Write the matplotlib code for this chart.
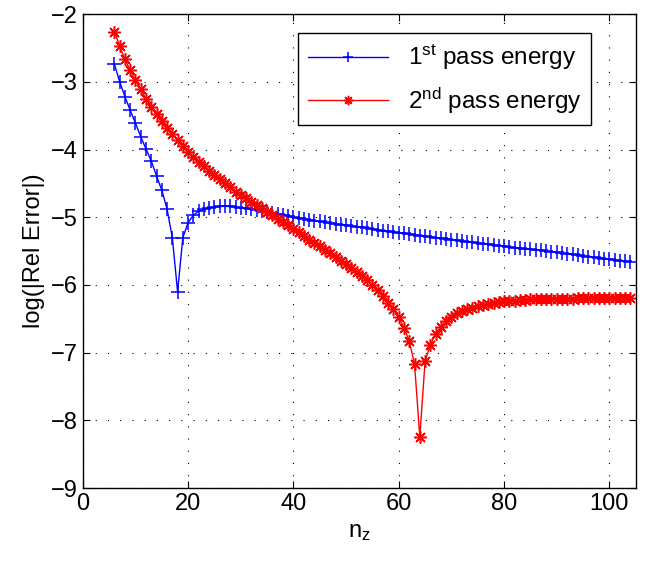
"""log relative error of pass energies vs n_z"""

import matplotlib
matplotlib.use('Agg')
import matplotlib.pyplot as plt

plt.rcParams['font.family'] = ['Liberation Sans', 'DejaVu Sans']
plt.rcParams['mathtext.fontset'] = 'custom'
plt.rcParams['mathtext.rm'] = 'Liberation Sans'
plt.rcParams['mathtext.it'] = 'Liberation Sans:italic'

n_z = list(range(6, 105))

# 1st pass energy
first_pass = [
    -2.74, -3.00, -3.22, -3.42, -3.61, -3.81, -3.99, -4.17, -4.39, -4.60,   # 6-15
    -4.88, -5.30, -6.10, -5.30, -5.08, -4.97, -4.91, -4.88, -4.86, -4.85,   # 16-25
    -4.84, -4.84, -4.84, -4.85, -4.86, -4.87, -4.88, -4.89, -4.91, -4.92,   # 26-35
    -4.94, -4.95, -4.96, -4.98, -5.00, -5.01, -5.02, -5.04, -5.05, -5.06,   # 36-45
    -5.07, -5.09, -5.10, -5.11, -5.12, -5.13, -5.14, -5.15, -5.16, -5.18,   # 46-55
    -5.19, -5.20, -5.21, -5.22, -5.23, -5.24, -5.25, -5.26, -5.27, -5.28,   # 56-65
    -5.29, -5.30, -5.31, -5.32, -5.33, -5.34, -5.35, -5.36, -5.37, -5.38,   # 66-75
    -5.39, -5.40, -5.41, -5.42, -5.43, -5.44, -5.45, -5.46, -5.47, -5.475,  # 76-85
    -5.48, -5.49, -5.50, -5.51, -5.52, -5.53, -5.54, -5.55, -5.56, -5.57,   # 86-95
    -5.58, -5.59, -5.60, -5.61, -5.62, -5.63, -5.64, -5.65, -5.66,          # 96-104
]

# 2nd pass energy
second_pass = [
    -2.26, -2.47, -2.67, -2.83, -2.98, -3.11, -3.25, -3.37, -3.48, -3.58,   # 6-15
    -3.68, -3.77, -3.86, -3.95, -4.03, -4.11, -4.18, -4.25, -4.32, -4.38,   # 16-25
    -4.44, -4.50, -4.56, -4.62, -4.67, -4.72, -4.77, -4.82, -4.87, -4.92,   # 26-35
    -4.97, -5.02, -5.07, -5.12, -5.17, -5.22, -5.28, -5.33, -5.38, -5.43,   # 36-45
    -5.48, -5.53, -5.59, -5.64, -5.69, -5.75, -5.81, -5.87, -5.93, -6.00,   # 46-55
    -6.08, -6.17, -6.27, -6.36, -6.48, -6.63, -6.83, -7.17, -8.24, -7.13,   # 56-65
    -6.88, -6.73, -6.62, -6.53, -6.47, -6.42, -6.39, -6.36, -6.34, -6.31,   # 66-75
    -6.29, -6.28, -6.26, -6.25, -6.24, -6.23, -6.23, -6.22, -6.22, -6.21,   # 76-85
    -6.21, -6.21, -6.20, -6.20, -6.20, -6.20, -6.20, -6.20, -6.19, -6.19,   # 86-95
    -6.19, -6.19, -6.19, -6.19, -6.19, -6.19, -6.19, -6.19, -6.19,          # 96-104
]

labels = [r'$\mathregular{1^{st}}$ pass energy', r'$\mathregular{2^{nd}}$ pass energy']

fig = plt.figure(figsize=(6.52, 5.63), dpi=100)
ax = fig.add_axes([0.127, 0.133, 0.848, 0.842])

ax.plot(n_z, first_pass, color='#0000ff', lw=1.0, marker='+', markersize=10,
        markeredgewidth=1.1, label=labels[0])
ax.plot(n_z, second_pass, color='#ff0000', lw=1.0, marker=(8, 2, 0), markersize=9,
        markeredgewidth=1.1, label=labels[1])

ax.set_xlim(0, 105)
ax.set_ylim(-9, -2)
ax.set_xticks(range(0, 101, 20))
ax.set_yticks(range(-9, -1))
ax.tick_params(direction='in', top=True, right=True, length=5, width=0.8, labelsize=17)
for spine in ax.spines.values():
    spine.set_linewidth(1.0)

ax.grid(True, color='black', lw=0.8, linestyle=(0, (1, 10)))

ax.set_xlabel(r'$\mathregular{n_z}$', fontsize=17)
ax.set_ylabel('log(|Rel Error|)', fontsize=17)

leg = ax.legend(loc='upper right', bbox_to_anchor=(0.92, 0.96), borderaxespad=0,
                fontsize=17.5, fancybox=False, framealpha=1, edgecolor='black',
                handlelength=3.3, markerscale=0.75, labelspacing=0.55)
leg.get_frame().set_linewidth(1.0)

fig.savefig('out.png', dpi=100)
